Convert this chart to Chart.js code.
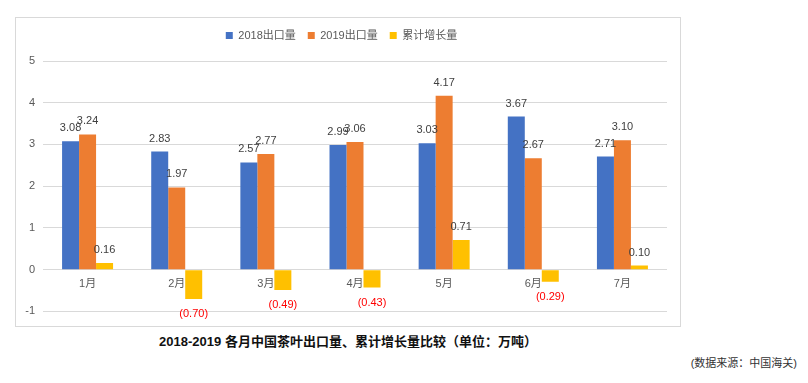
<!DOCTYPE html>
<html>
<head>
<meta charset="utf-8">
<script src="https://cdn.jsdelivr.net/npm/chart.js@4"></script>
<style>
  html, body { margin: 0; padding: 0; background: #fff; }
  body { width: 808px; height: 383px; position: relative; overflow: hidden;
         font-family: "Liberation Sans", "Noto Sans CJK SC", sans-serif; }
  #box { position: absolute; left: 15px; top: 17px; width: 664px; height: 308px;
         border: 1px solid #d9d9d9; }
  #box canvas { position: absolute; left: 0; top: 0; }
  #title { position: absolute; left: 15px; width: 666px; top: 331px; text-align: center;
           font-weight: bold; font-size: 13px; color: #111; }
  #source { position: absolute; right: 11px; top: 354px; font-size: 11px; color: #333; }
</style>
</head>
<body>
<div id="box"><canvas id="c" width="664" height="308"></canvas></div>
<div id="title">2018-2019 各月中国茶叶出口量、累计增长量比较（单位：万吨）</div>
<div id="source">(数据来源：中国海关)</div>
<script>
const categories = ["1月", "2月", "3月", "4月", "5月", "6月", "7月"];
const seriesNames = ["2018出口量", "2019出口量", "累计增长量"];
const export2018 = [3.08, 2.83, 2.57, 2.99, 3.03, 3.67, 2.71];
const export2019 = [3.24, 1.97, 2.77, 3.06, 4.17, 2.67, 3.10];
const cumulativeGrowth = [0.16, -0.70, -0.49, -0.43, 0.71, -0.29, 0.10];
const yTicks = [-1, 0, 1, 2, 3, 4, 5];

const FONT = "'Liberation Sans', 'Noto Sans CJK SC', sans-serif";

const legendSpacing = {
  id: 'legendSpacing',
  beforeInit(chart) {
    const orig = chart.legend.fit;
    chart.legend.fit = function () {
      orig.call(this);
      this.height += 10;
    };
  }
};

const valueLabels = {
  id: 'valueLabels',
  afterDatasetsDraw(chart) {
    const ctx = chart.ctx;
    ctx.save();
    ctx.font = "11px " + FONT;
    ctx.textAlign = 'center';
    ctx.textBaseline = 'middle';
    chart.data.datasets.forEach((ds, di) => {
      const meta = chart.getDatasetMeta(di);
      meta.data.forEach((el, i) => {
        const v = ds.data[i];
        if (v < 0) {
          ctx.fillStyle = '#ff0000';
          ctx.fillText('(' + Math.abs(v).toFixed(2) + ')', el.x, el.y + 15);
        } else {
          ctx.fillStyle = '#404040';
          ctx.fillText(v.toFixed(2), el.x, el.y - 13);
        }
      });
    });
    ctx.restore();
  }
};

new Chart(document.getElementById('c'), {
  type: 'bar',
  data: {
    labels: categories,
    datasets: [
      { label: seriesNames[0], data: export2018, backgroundColor: '#4472c4' },
      { label: seriesNames[1], data: export2019, backgroundColor: '#ed7d31' },
      { label: seriesNames[2], data: cumulativeGrowth, backgroundColor: '#ffc000' }
    ]
  },
  options: {
    responsive: false,
    animation: false,
    devicePixelRatio: 1,
    layout: { padding: { left: 0, right: 13, top: 0, bottom: 10 } },
    datasets: { bar: { categoryPercentage: 0.572, barPercentage: 1.0 } },
    plugins: {
      legend: {
        position: 'top',
        labels: {
          boxWidth: 7, boxHeight: 7, padding: 12,
          color: '#595959',
          font: { size: 11, family: FONT }
        }
      },
      tooltip: { enabled: false }
    },
    scales: {
      x: {
        position: { y: 0 },
        grid: { display: false },
        border: { display: false },
        ticks: { color: '#595959', padding: 0, font: { size: 11, family: FONT } }
      },
      y: {
        min: -1, max: 5,
        afterBuildTicks(scale) { scale.ticks = yTicks.map(v => ({ value: v })); },
        afterFit(scale) { scale.width = 27; },
        grid: { color: '#d9d9d9', drawTicks: false },
        border: { display: false },
        ticks: { color: '#595959', padding: 8, font: { size: 11, family: FONT } }
      }
    }
  },
  plugins: [legendSpacing, valueLabels]
});
</script>
</body>
</html>
